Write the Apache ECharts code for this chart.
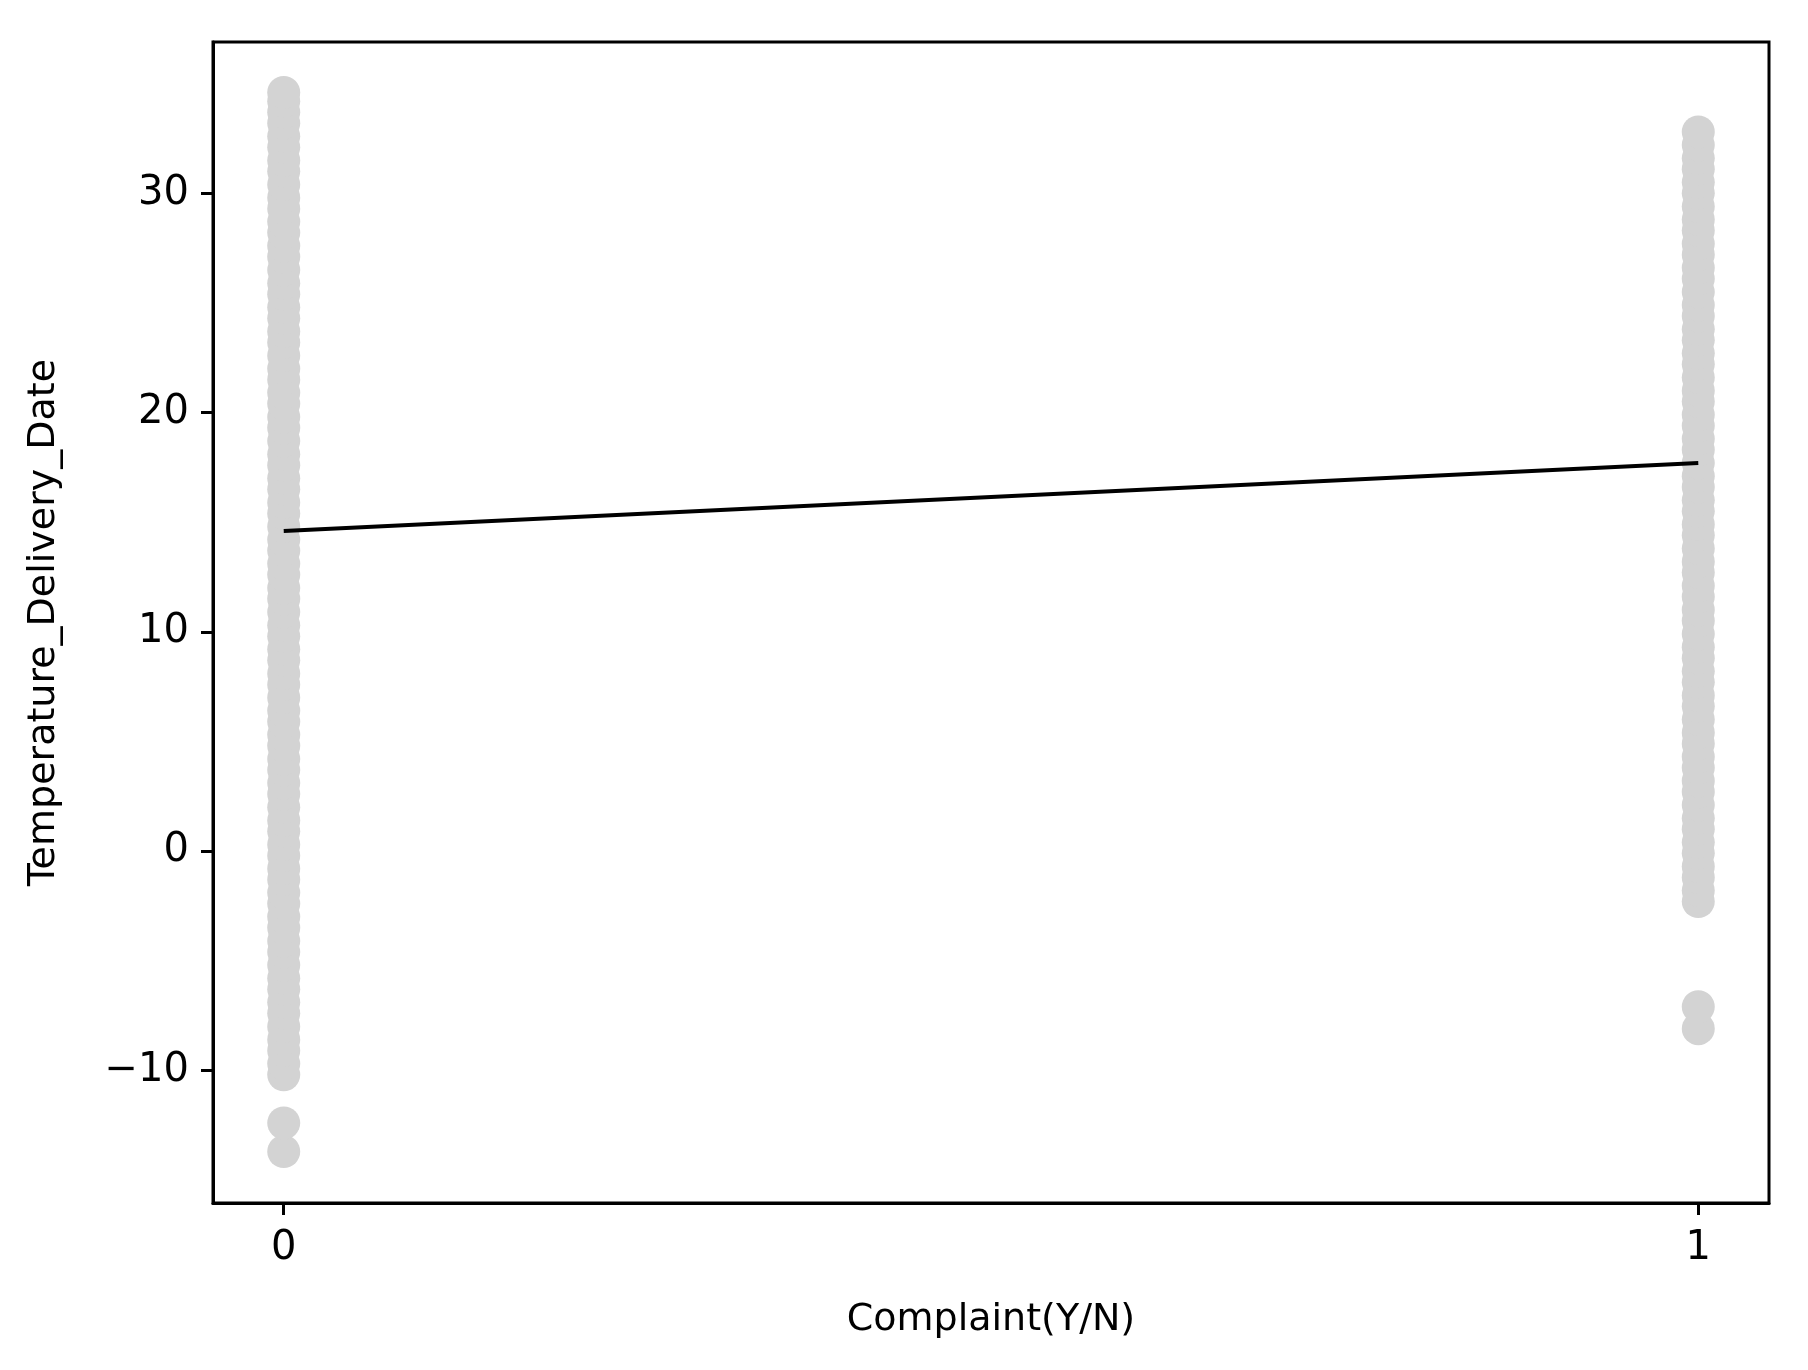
<!DOCTYPE html>
<html><head><meta charset="utf-8">
<script src="https://cdn.jsdelivr.net/npm/echarts@6/dist/echarts.min.js"></script>
<style>html,body{margin:0;padding:0;background:#fff}#c{width:1808px;height:1370px}</style>
</head><body><div id="c"></div>
<script>
const xTitle = 'Complaint(Y/N)';
const yTitle = 'Temperature_Delivery_Date';
const xTicks = [0, 1];
const yTicks = [-10, 0, 10, 20, 30];
const noComplaintTemps = [-13.7,-12.4,-10.2,-9.7,-9.1,-8.6,-8.0,-7.4,-6.9,-6.3,-5.8,-5.2,-4.6,-4.1,-3.5,-3.0,-2.4,-1.9,-1.3,-0.8,-0.2,0.3,0.9,1.4,2.0,2.6,3.1,3.7,4.2,4.8,5.3,5.9,6.4,7.0,7.6,8.1,8.7,9.2,9.8,10.3,10.9,11.5,12.0,12.6,13.1,13.7,14.2,14.8,15.4,15.9,16.5,17.0,17.6,18.1,18.7,19.3,19.8,20.4,20.9,21.5,22.0,22.6,23.2,23.7,24.3,24.8,25.4,25.9,26.5,27.1,27.6,28.2,28.7,29.3,29.8,30.4,31.0,31.5,32.1,32.6,33.2,33.7,34.2,34.6];
const complaintTemps = [-8.1,-7.1,-2.3,-1.8,-1.2,-0.7,-0.1,0.4,1.0,1.5,2.1,2.7,3.2,3.8,4.3,4.9,5.4,6.0,6.6,7.1,7.7,8.2,8.8,9.3,9.9,10.5,11.0,11.6,12.1,12.7,13.2,13.8,14.4,14.9,15.5,16.0,16.6,17.1,17.7,18.3,18.8,19.4,19.9,20.5,21.0,21.6,22.2,22.7,23.3,23.8,24.4,24.9,25.5,26.1,26.6,27.2,27.7,28.3,28.8,29.4,30.0,30.5,31.1,31.6,32.2,32.8];
const fitX = [0, 1];
const fitY = [14.6, 17.7];

const pts = noComplaintTemps.map(v => [0, v]).concat(complaintTemps.map(v => [1, v]));
const font = 'DejaVu Sans';
const chart = echarts.init(document.getElementById('c'), null, {renderer: 'canvas'});
chart.setOption({
  animation: false,
  grid: {left: 213, right: 39, top: 42, bottom: 167, show: true, borderColor: '#000', borderWidth: 3},
  xAxis: {
    type: 'value', min: -0.05, max: 1.05,
    name: xTitle, nameLocation: 'middle', nameGap: 98,
    nameTextStyle: {fontFamily: font, fontSize: 38, color: '#000'},
    axisLine: {show: true, onZero: false, lineStyle: {color: '#000', width: 3}}, splitLine: {show: false},
    axisTick: {show: true, length: 12, lineStyle: {color: '#000', width: 3}, customValues: xTicks},
    axisLabel: {fontFamily: font, fontSize: 40, color: '#000', margin: 26, customValues: xTicks}
  },
  yAxis: {
    type: 'value', min: -16.05, max: 36.9,
    name: yTitle, nameLocation: 'middle', nameGap: 150, nameRotate: 90,
    nameTextStyle: {fontFamily: font, fontSize: 38, color: '#000'},
    axisLine: {show: true, onZero: false, lineStyle: {color: '#000', width: 3}}, splitLine: {show: false},
    axisTick: {show: true, length: 12, lineStyle: {color: '#000', width: 3}, customValues: yTicks},
    axisLabel: {fontFamily: font, fontSize: 40, color: '#000', margin: 24, customValues: yTicks,
      formatter: v => v < 0 ? '\u2212' + Math.abs(v) : String(v)}
  },
  series: [
    {type: 'scatter', data: pts, symbolSize: 33, itemStyle: {color: '#d3d3d3', opacity: 1}, z: 2},
    {type: 'line', data: fitX.map((x, i) => [x, fitY[i]]), symbol: 'none', lineStyle: {color: '#000', width: 4}, z: 3}
  ]
});
</script></body></html>
